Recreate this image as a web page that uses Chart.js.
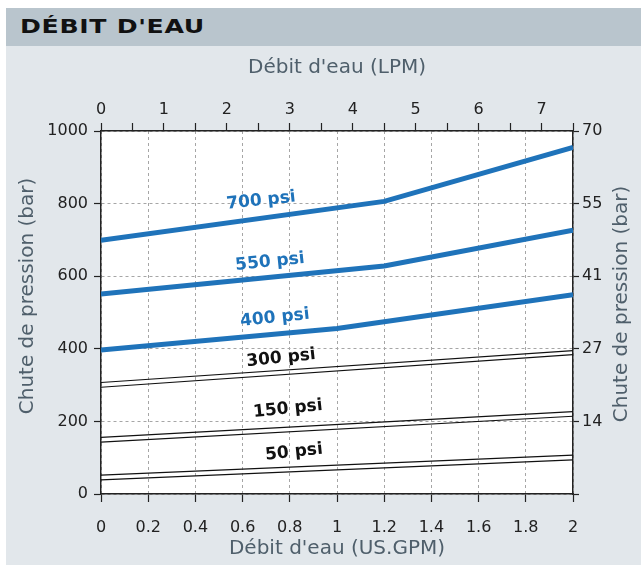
<!DOCTYPE html>
<html>
<head>
<meta charset="utf-8">
<script src="https://cdn.jsdelivr.net/npm/chart.js@4"></script>
<style>
  html, body { margin: 0; padding: 0; background: #ffffff; }
  body { width: 641px; height: 571px; position: relative; overflow: hidden; font-family: 'DejaVu Sans', sans-serif; }
  #panel { position: absolute; left: 6px; top: 8px; width: 635px; height: 557px; background: #e2e7eb; }
  #head { position: absolute; left: 0; top: 0; width: 635px; height: 38px; background: #b9c5cd; }
  #head span { position: absolute; left: 14px; top: 7px; font-size: 19px; font-weight: bold; color: #111; letter-spacing: 0.5px; white-space: nowrap; transform-origin: 0 50%; }
  #plot { position: absolute; left: 0; top: 0; }
</style>
</head>
<body>
<div id="panel"><div id="head"><span id="headText">DÉBIT D'EAU</span></div></div>
<canvas id="plot" width="641" height="571"></canvas>
<script>
// flow (US.GPM) and pressure drop
const gpm700 = [0, 1.2, 2];
const drop700 = [699, 806, 955];
const gpm550 = [0, 1.2, 2];
const drop550 = [551, 628, 727];
const gpm400 = [0, 1, 2];
const drop400 = [397, 456, 549];

// thin double lines
const gpmThin = [0, 2];
const drop300a = [307, 395];
const drop300b = [294, 384];
const drop150a = [156, 227];
const drop150b = [143, 214];
const drop50a = [52, 107];
const drop50b = [39, 94];

// curve labels: text, flow, pressure
const labelText = ['700 psi', '550 psi', '400 psi', '300 psi', '150 psi', '50 psi'];
const labelGpm = [0.678, 0.716, 0.737, 0.763, 0.792, 0.818];
const labelDrop = [808, 639, 485, 374, 234, 115];

// right axis (bar) tick labels
const barTicks = { 1000: '70', 800: '55', 600: '41', 400: '27', 200: '14' };

const BLUE = '#1f73ba';
const FONT = "'DejaVu Sans', sans-serif";
const yTitle = 'Chute de pression (bar)';

// stretch the heading like the wide font in the original
const head = document.getElementById('headText');
head.style.transform = 'scaleX(' + (185 / head.getBoundingClientRect().width) + ')';

function pts(xs, ys) {
  return xs.map((x, i) => ({ x: x, y: ys[i] }));
}

function thick(xs, ys) {
  return { data: pts(xs, ys), borderColor: BLUE, borderWidth: 5, pointRadius: 0, showLine: true, fill: false, borderCapStyle: 'butt' };
}
function thin(xs, ys) {
  return { data: pts(xs, ys), borderColor: '#111111', borderWidth: 1.1, pointRadius: 0, showLine: true, fill: false };
}

const tickFont = { family: FONT, size: 16 };
const titleFont = { family: FONT, size: 20 };
const tickCol = '#222222';
const titleCol = '#4f5f6b';
const gridCol = '#a6a6a6';

// white plot area
const plotBg = {
  id: 'plotBg',
  beforeDraw(chart) {
    const a = chart.chartArea;
    chart.ctx.save();
    chart.ctx.fillStyle = '#ffffff';
    chart.ctx.fillRect(a.left, a.top, a.right - a.left, a.bottom - a.top);
    chart.ctx.restore();
  }
};

const curveLabels = {
  id: 'curveLabels',
  afterDatasetsDraw(chart) {
    const ctx = chart.ctx;
    const xs = chart.scales.x, ys = chart.scales.y;
    ctx.save();
    ctx.font = 'bold 17px ' + FONT;
    ctx.textAlign = 'center';
    ctx.textBaseline = 'middle';
    for (let i = 0; i < labelText.length; i++) {
      ctx.save();
      ctx.translate(xs.getPixelForValue(labelGpm[i]), ys.getPixelForValue(labelDrop[i]));
      ctx.rotate(-6 * Math.PI / 180);
      ctx.fillStyle = i < 3 ? BLUE : '#111111';
      ctx.fillText(labelText[i], 0, 0);
      ctx.restore();
    }
    // both vertical titles read bottom to top
    ctx.font = '20px ' + FONT;
    ctx.fillStyle = titleCol;
    [[28, 296], [622, 304]].forEach(p => {
      ctx.save();
      ctx.translate(p[0], p[1]);
      ctx.rotate(-Math.PI / 2);
      ctx.fillText(yTitle, 0, 0);
      ctx.restore();
    });
    ctx.restore();
  }
};

new Chart(document.getElementById('plot'), {
  type: 'scatter',
  data: {
    datasets: [
      thick(gpm700, drop700), thick(gpm550, drop550), thick(gpm400, drop400),
      thin(gpmThin, drop300a), thin(gpmThin, drop300b),
      thin(gpmThin, drop150a), thin(gpmThin, drop150b),
      thin(gpmThin, drop50a), thin(gpmThin, drop50b)
    ]
  },
  plugins: [plotBg, curveLabels],
  options: {
    responsive: false,
    animation: false,
    layout: { padding: 0 },
    plugins: { legend: { display: false }, tooltip: { enabled: false } },
    scales: {
      x: {
        type: 'linear', position: 'bottom', min: 0, max: 2,
        afterFit: s => { s.height = 77; },
        ticks: { stepSize: 0.2, font: tickFont, color: tickCol, padding: 16, maxRotation: 0, autoSkip: false,
          callback: v => String(Math.round(v * 10) / 10) },
        grid: { color: gridCol, lineWidth: 1, tickLength: 8, tickColor: '#222', tickWidth: 1.2 },
        border: { color: '#222', width: 1.5, dash: [3, 3] },
        title: { display: true, text: "Débit d'eau (US.GPM)", font: titleFont, color: titleCol, padding: { top: 0, bottom: 10 } }
      },
      x2: {
        type: 'linear', position: 'top', min: 0, max: 7.5,
        afterFit: s => { s.height = 131; },
        ticks: { stepSize: 0.5, font: tickFont, color: tickCol, padding: 4, maxRotation: 0, autoSkip: false,
          callback: v => Number.isInteger(v) ? String(v) : '' },
        grid: { drawOnChartArea: false, tickLength: 8, tickColor: '#222', tickWidth: 1.2 },
        border: { color: '#222', width: 1.5 },
        title: { display: true, text: "Débit d'eau (LPM)", font: titleFont, color: titleCol, padding: { top: 56, bottom: 0 } }
      },
      y: {
        type: 'linear', position: 'left', min: 0, max: 1000,
        afterFit: s => { s.width = 101; },
        ticks: { stepSize: 200, font: tickFont, color: tickCol, padding: 6, callback: v => String(v) },
        grid: { color: gridCol, lineWidth: 1, tickLength: 7, tickColor: '#222', tickWidth: 1.2 },
        border: { color: '#222', width: 1.5, dash: [3, 3] },
        title: { display: false }
      },
      y2: {
        type: 'linear', position: 'right', min: 0, max: 1000,
        afterFit: s => { s.width = 68; },
        ticks: { stepSize: 200, font: tickFont, color: tickCol, padding: 3,
          callback: v => barTicks[v] || '' },
        grid: { drawOnChartArea: false, tickLength: 6, tickColor: '#222', tickWidth: 1.2 },
        border: { color: '#222', width: 1.5 },
        title: { display: false }
      }
    }
  }
});
</script>
</body>
</html>
